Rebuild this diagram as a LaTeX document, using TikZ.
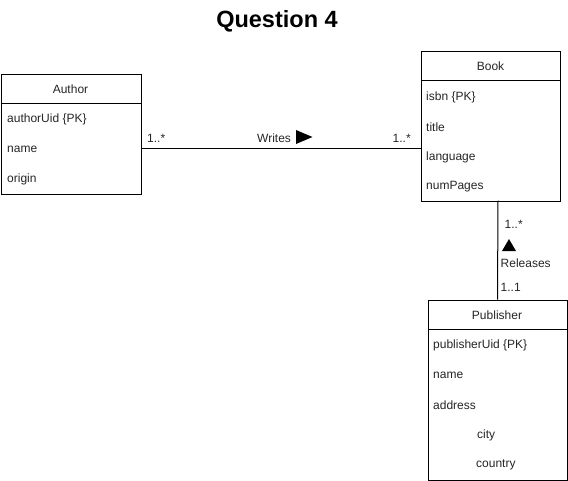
\documentclass[tikz,border=0pt]{standalone}
\usepackage{fontspec}
\setmainfont{Liberation Sans}
\begin{document}
\begin{tikzpicture}[x=1pt,y=-1pt,
  umlbox/.style={draw=black, line width=1pt, fill=white, inner sep=0pt, anchor=north west},
  attr/.style={anchor=west, inner sep=0pt, font=\fontsize{12}{14}\selectfont, text=black!85},
  title/.style={anchor=center, inner sep=0pt, font=\fontsize{12}{14}\selectfont, text=black!85},
  mult/.style={anchor=west, inner sep=0pt, font=\fontsize{12}{14}\selectfont, text=black!85},
  assoc/.style={draw=black, line width=1pt},
  dirmark/.style={fill=black, draw=none}]
\useasboundingbox (0,0) rectangle (568,480);

% heading
\node[inner sep=0pt, font=\bfseries\fontsize{23.5}{26}\selectfont] (heading) at (277,21) {Question 4};

% Author class
\node[umlbox, minimum width=140pt, minimum height=120pt] (author) at (0.5,73.5) {};
\draw[line width=1pt] (0.5,103.5) -- (140.5,103.5);
\node[title] (authorT) at (70.5,89) {Author};
\node[attr] (a1) at (7,119) {authorUid \{PK\}};
\node[attr] (a2) at (7,149) {name};
\node[attr] (a3) at (7,179) {origin};

% Book class
\node[umlbox, minimum width=139pt, minimum height=150pt] (book) at (421,50.5) {};
\draw[line width=1pt] (421,80.5) -- (560,80.5);
\node[title] (bookT) at (490.5,66.5) {Book};
\node[attr] (b1) at (426,97) {isbn \{PK\}};
\node[attr] (b2) at (426,127) {title};
\node[attr] (b3) at (426,157) {language};
\node[attr] (b4) at (426,187) {numPages};

% Publisher class
\node[umlbox, minimum width=139pt, minimum height=180pt] (publisher) at (427.5,299.5) {};
\draw[line width=1pt] (427.5,329.5) -- (566.5,329.5);
\node[title] (pubT) at (497,315.5) {Publisher};
\node[attr] (p1) at (433,345) {publisherUid \{PK\}};
\node[attr] (p2) at (433,375) {name};
\node[attr] (p3) at (433,405) {address};
\node[attr] (p4) at (477,435) {city};
\node[attr] (p5) at (476,465) {country};

% Writes association
\draw[assoc] (author.east |- 0,148.5) -- (book.west |- 0,148.5);
\node[mult] (w1) at (147,138.5) {1..*};
\node[mult] (wl) at (257,138.5) {Writes};
\fill[dirmark] (296,130) -- (296,144) -- (312.5,137) -- cycle;
\node[mult] (w2) at (392.5,138.5) {1..*};

% Releases association
\coordinate (bs) at (498,200.5);
\coordinate (pn) at (497.5,299.5);
\draw[assoc] (bs) -- (pn);
\node[mult] (r1) at (504.5,224) {1..*};
\fill[dirmark] (502,251) -- (516,251) -- (509,239) -- cycle;
\node[mult] (rl) at (500.5,263) {Releases};
\node[mult] (r2) at (500.5,287) {1..1};
\end{tikzpicture}
\end{document}
